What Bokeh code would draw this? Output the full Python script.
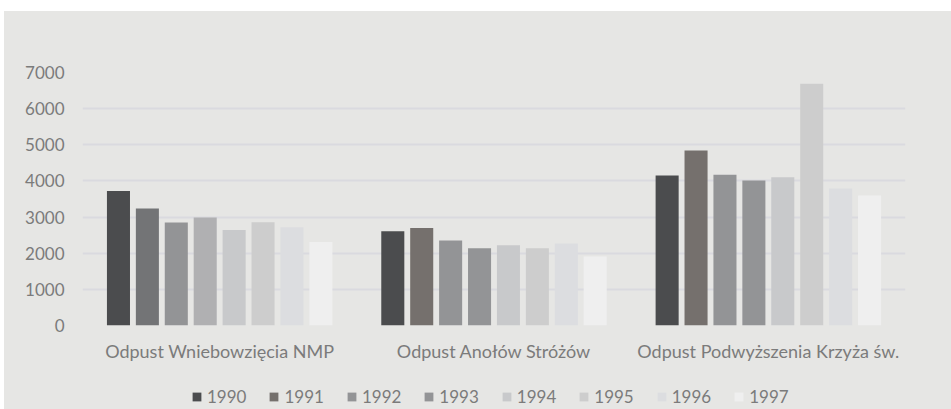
from bokeh.plotting import figure
from bokeh.models import (ColumnDataSource, FactorRange, Range1d, SingleIntervalTicker,
                          Legend, LegendItem, Spacer)
from bokeh.layouts import column, row
from bokeh.transform import dodge
from bokeh.embed import file_html
from bokeh.resources import INLINE

groups = ["Odpust Wniebowzięcia NMP", "Odpust Anołów Stróżów", "Odpust Podwyższenia Krzyża św."]
years = ["1990", "1991", "1992", "1993", "1994", "1995", "1996", "1997"]
v1990 = [3720, 2610, 4150]
v1991 = [3240, 2700, 4840]
v1992 = [2850, 2350, 4170]
v1993 = [2990, 2140, 4010]
v1994 = [2640, 2220, 4100]
v1995 = [2860, 2140, 6690]
v1996 = [2720, 2270, 3790]
v1997 = [2310, 1910, 3600]
values = [v1990, v1991, v1992, v1993, v1994, v1995, v1996, v1997]

# styling: series colours (with per-point overrides in the first group)
series_colors = ["#4b4c4e", "#75706d", "#939496", "#939496", "#c8c9cb", "#cdcdcd", "#dcdde0", "#efefef"]
point_overrides = {1: {0: "#737476"}, 3: {0: "#b0b0b2"}}

BG = "#e6e6e4"
TXT = "#7b7b7b"
FONT = "Lato"

p = figure(frame_width=823, frame_height=253, output_backend="svg", toolbar_location=None,
           x_range=FactorRange(*groups, range_padding=0), y_range=Range1d(0, 7000),
           min_border_left=78, min_border_right=46, min_border_top=61, min_border_bottom=45)
p.background_fill_color = BG
p.border_fill_color = BG
p.outline_line_color = None

pitch = 0.1054
for j, y in enumerate(years):
    cols = [series_colors[j]] * len(groups)
    for gi, c in point_overrides.get(j, {}).items():
        cols[gi] = c
    src = ColumnDataSource(dict(g=groups, v=values[j], c=cols))
    p.vbar(x=dodge("g", (j - 3.5) * pitch, range=p.x_range), top="v", width=0.084,
           source=src, fill_color="c", line_color=None)

p.ygrid.grid_line_color = "#dadadf"
p.ygrid.grid_line_width = 2
p.xgrid.grid_line_color = None

p.yaxis.ticker = SingleIntervalTicker(interval=1000)
for ax in (p.xaxis, p.yaxis):
    ax.axis_line_color = None
    ax.major_tick_line_color = None
    ax.minor_tick_line_color = None
    ax.major_label_text_font = FONT
    ax.major_label_text_font_size = "17px"
    ax.major_label_text_color = TXT
p.xaxis.major_label_text_font_size = "18px"
p.yaxis.major_label_standoff = 12
p.xaxis.major_label_standoff = 8

# legend strip below the chart (frame aligned with the chart's frame)
lg = figure(width=947, height=39, output_backend="svg", toolbar_location=None,
            x_range=Range1d(0, 1), y_range=Range1d(0, 1),
            min_border_left=0, min_border_right=0, min_border_top=0, min_border_bottom=0)
lg.axis.visible = False
lg.grid.visible = False
lg.outline_line_color = None
lg.background_fill_color = None
lg.border_fill_color = None
items = []
for j, y in enumerate(years):
    r = lg.quad(left=[-10], right=[-9], bottom=[-10], top=[-9],
                fill_color=series_colors[j], line_color=None)
    items.append(LegendItem(label=y, renderers=[r]))
legend = Legend(items=items, orientation="horizontal", location=(109, 2),
                glyph_width=11, glyph_height=11, label_standoff=5, spacing=22,
                label_text_font=FONT, label_text_font_size="17px", label_text_color=TXT,
                background_fill_alpha=0, border_line_color=None, padding=0, margin=0)
lg.add_layout(legend)

layout = column(Spacer(height=11, width=951),
                row(Spacer(width=4, height=10),
                    column(p, lg, spacing=0, styles={"background-color": BG}),
                    spacing=0),
                spacing=0)

open("out.html", "w").write(file_html(layout, INLINE))
